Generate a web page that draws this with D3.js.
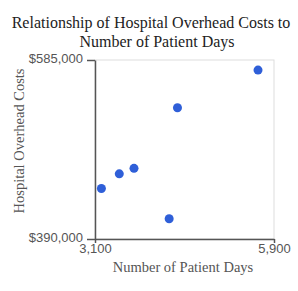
<!DOCTYPE html>
<html>
<head>
<meta charset="utf-8">
<script src="https://cdn.jsdelivr.net/npm/d3@7"></script>
<style>
  body { margin: 0; background: #fff; }
  .tick text { font-family: "Liberation Sans", Arial, sans-serif; font-size: 13px; fill: #555; }
</style>
</head>
<body>
<div id="chart"></div>
<script>
// values
const patientDays = [3200, 3480, 3710, 4260, 4390, 5650];
const overheadCosts = [445000, 461000, 467000, 412000, 533000, 574000];
const xTicks = [3100, 5900];
const yTicks = [390000, 585000];

const msm = { width: 298, height: 291, left: 95, right: 274, top: 60, bottom: 239 };

const svg = d3.select("#chart").append("svg")
    .attr("width", msm.width)
    .attr("height", msm.height);

const xScale = d3.scaleLinear().domain([3100, 5900]).range([msm.left, msm.right]);
const yScale = d3.scaleLinear().domain([390000, 585000]).range([msm.bottom, msm.top]);

// light frame on top and right
svg.append("rect")
    .attr("x", msm.left).attr("y", msm.top)
    .attr("width", msm.right - msm.left).attr("height", msm.bottom - msm.top)
    .attr("fill", "none").attr("stroke", "#ddd");

const xAxis = d3.axisBottom(xScale).tickValues(xTicks).tickSize(4).tickSizeOuter(0)
    .tickFormat(d3.format(","));
svg.append("g")
    .attr("transform", "translate(0," + msm.bottom + ")")
    .call(xAxis)
    .call(g => g.selectAll("line, path").attr("stroke", "#555").attr("stroke-width", 1.5))
    .call(g => g.selectAll("text").attr("y", 5));

const yAxis = d3.axisLeft(yScale).tickValues(yTicks).tickSize(8).tickSizeOuter(0)
    .tickFormat(d => "$" + d3.format(",")(d));
svg.append("g")
    .attr("transform", "translate(" + msm.left + ",0)")
    .call(yAxis)
    .call(g => g.selectAll("line, path").attr("stroke", "#555").attr("stroke-width", 1.5))
    .call(g => g.selectAll("text").attr("x", -12).attr("dy", "0.2em"));

svg.selectAll(".dot")
    .data(patientDays)
    .enter()
    .append("circle")
    .attr("class", "dot")
    .attr("cx", d => xScale(d))
    .attr("cy", (d, i) => yScale(overheadCosts[i]))
    .attr("r", 4.5)
    .attr("fill", "#2f5fd8");

// title and axis labels
const serif = '"Liberation Serif", "Times New Roman", serif';
svg.append("text")
    .attr("x", 151).attr("y", 28)
    .attr("text-anchor", "middle")
    .style("font-family", serif).style("font-size", "16px").style("fill", "#222")
    .text("Relationship of Hospital Overhead Costs to");
svg.append("text")
    .attr("x", 157).attr("y", 47)
    .attr("text-anchor", "middle")
    .style("font-family", serif).style("font-size", "16px").style("fill", "#222")
    .text("Number of Patient Days");
svg.append("text")
    .attr("x", 183).attr("y", 272)
    .attr("text-anchor", "middle")
    .style("font-family", serif).style("font-size", "14.5px").style("fill", "#555")
    .text("Number of Patient Days");
svg.append("text")
    .attr("transform", "translate(24,141) rotate(-90)")
    .attr("text-anchor", "middle")
    .style("font-family", serif).style("font-size", "14.5px").style("fill", "#555")
    .text("Hospital Overhead Costs");
</script>
</body>
</html>
